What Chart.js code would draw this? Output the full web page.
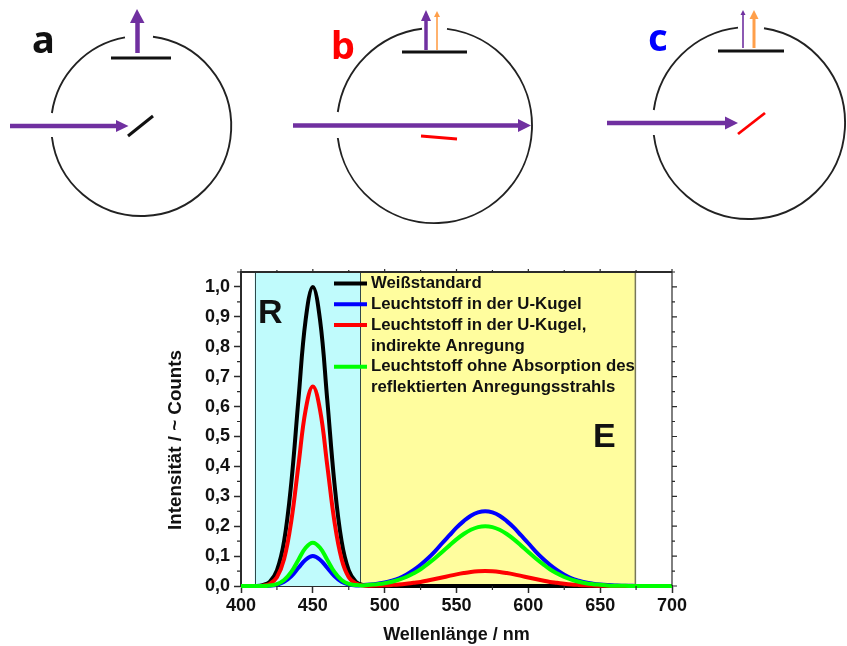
<!DOCTYPE html>
<html>
<head>
<meta charset="utf-8">
<title>Wellenlänge</title>
<script src="https://cdn.jsdelivr.net/npm/chart.js@4/dist/chart.umd.min.js"></script>
<style>
  html, body { margin: 0; padding: 0; background: #fff; }
  #wrap { position: relative; width: 847px; height: 646px; overflow: hidden; }
  #spectra { position: absolute; left: 0; top: 0; }
  #sketch { position: absolute; left: 0; top: 0; }
  #sketch text { font-family: "Noto Sans", sans-serif; font-weight: 700; font-size: 38px; }
</style>
</head>
<body>
<div id="wrap">
  <canvas id="spectra" width="847" height="646"></canvas>
  <svg id="sketch" width="847" height="240" viewBox="0 0 847 240" fill="none">
    <!-- a -->
    <text x="32" y="53" fill="#111">a</text>
    <path d="M153 36.8A90 90 0 1 1 51.9 137M51.9 113A90 90 0 0 1 125 37.4" stroke="#222" stroke-width="1.9"/>
    <path d="M111 58H171" stroke="#111" stroke-width="3"/>
    <path d="M137.5 53V22" stroke="#7030A0" stroke-width="4.5"/>
    <path d="M137 9L144.5 23H130Z" fill="#7030A0"/>
    <path d="M10 126H118" stroke="#7030A0" stroke-width="4.500"/>
    <path d="M128.500 126L116 120V132Z" fill="#7030A0"/>
    <path d="M128 136L153 116" stroke="#111" stroke-width="3"/>
    <!-- b -->
    <text x="331" y="59" fill="#f00">b</text>
    <path d="M447 28.900A97.500 97.500 0 1 1 337.800 138M337.800 112A97.500 97.500 0 0 1 422 28.700" stroke="#222" stroke-width="1.9"/>
    <path d="M402 52H467" stroke="#111" stroke-width="3"/>
    <path d="M426 50V20" stroke="#7030A0" stroke-width="3.500"/>
    <path d="M426 10L431 21H421Z" fill="#7030A0"/>
    <path d="M437 50V16" stroke="#FF9F4A" stroke-width="1.600"/>
    <path d="M437 11L440 17H434Z" fill="#FF9F4A"/>
    <path d="M293 125.500H519" stroke="#7030A0" stroke-width="4.500"/>
    <path d="M531 125.500L518 119V132Z" fill="#7030A0"/>
    <path d="M421 136L457 139" stroke="#f00" stroke-width="2.800"/>
    <!-- c -->
    <text x="648" y="51" fill="#00f">c</text>
    <path d="M764 28.200A96 96 0 1 1 653.800 135M653.800 110A96 96 0 0 1 738 27.600" stroke="#222" stroke-width="1.9"/>
    <path d="M718 51H784" stroke="#111" stroke-width="3"/>
    <path d="M743 48V14" stroke="#7030A0" stroke-width="1.600"/>
    <path d="M743 10L745.500 15H740.500Z" fill="#7030A0"/>
    <path d="M754 48V18" stroke="#FF9F4A" stroke-width="3"/>
    <path d="M754 10L758.500 19H749.500Z" fill="#FF9F4A"/>
    <path d="M607 123H726" stroke="#7030A0" stroke-width="4.500"/>
    <path d="M738 123L725 116.500V129.500Z" fill="#7030A0"/>
    <path d="M738 134L765 113" stroke="#f00" stroke-width="2.800"/>
  </svg>
</div>
<script>
// DATA
const wavelengths = [
  400, 405, 410, 415, 420, 425, 430, 435, 440, 445,
  450, 455, 460, 465, 470, 475, 480, 485, 490, 495,
  500, 505, 510, 515, 520, 525, 530, 535, 540, 545,
  550, 555, 560, 565, 570, 575, 580, 585, 590, 595,
  600, 605, 610, 615, 620, 625, 630, 635, 640, 645,
  650, 655, 660, 665, 670, 675, 680, 685, 690, 695,
  700
];
const weissstandard = [
  0, 0, 0, .003, .014, .052, .15, .345, .625, .89,
  1, .89, .625, .345, .15, .052, .014, .003, 0, 0,
  0, 0, 0, 0, 0, 0, 0, 0, 0, 0,
  0, 0, 0, 0, 0, 0, 0, 0, 0, 0,
  0, 0, 0, 0, 0, 0, 0, 0, 0, 0,
  0, 0, 0, 0, 0, 0, 0, 0, 0, 0,
  0
];
const leuchtstoffKugel = [
  0, 0, 0, 0, .001, .004, .014, .032, .061, .088,
  .1, .088, .061, .033, .014, .005, .002, .003, .005, .008,
  .012, .018, .026, .038, .053, .071, .092, .116, .143, .169,
  .195, .217, .235, .246, .25, .246, .235, .217, .195, .169,
  .143, .116, .092, .071, .053, .038, .026, .018, .012, .008,
  .005, .003, .002, .001, .001, 0, 0, 0, 0, 0,
  0
];
const leuchtstoffIndirekt = [
  0, 0, 0, .001, .007, .029, .09, .217, .405, .589,
  .667, .589, .405, .217, .09, .029, .008, .002, .001, .0015,
  .0024, .0036, .0052, .0076, .0106, .0135, .0184, .0233, .0285, .0338,
  .039, .0434, .047, .0492, .05, .0492, .047, .0434, .039, .0338,
  .0285, .0233, .0184, .0135, .0106, .0076, .0052, .0036, .0024, .0015,
  .001, .0005, 0, 0, 0, 0, 0, 0, 0, 0,
  0
];
const leuchtstoffOhneAbsorption = [
  0, 0, 0, 0, .002, .006, .02, .047, .088, .128,
  .145, .128, .088, .047, .02, .007, .003, .002, .004, .006,
  .009, .014, .021, .03, .042, .056, .074, .093, .114, .135,
  .156, .174, .188, .197, .2, .197, .188, .174, .156, .135,
  .114, .093, .074, .056, .042, .03, .021, .014, .009, .006,
  .004, .002, .001, .001, 0, 0, 0, 0, 0, 0,
  0
];
const bandR = [409.5, 483];
const bandE = [483, 674.5];
const legendRows = [
  { lines: ["Weißstandard"], color: "#000000" },
  { lines: ["Leuchtstoff in der U-Kugel"], color: "#0000ff" },
  { lines: ["Leuchtstoff in der U-Kugel,", "indirekte Anregung"], color: "#ff0000" },
  { lines: ["Leuchtstoff ohne Absorption des", "reflektierten Anregungsstrahls"], color: "#00ff00" }
];

const FONT = '"Liberation Sans", Arial, sans-serif';
const AXIS = "#2b2b2b";
const BOLD18 = { family: FONT, size: 18, weight: "bold" };

function series(values) {
  return wavelengths.map((x, i) => ({ x: x, y: values[i] }));
}

function lineSet(label, values, color, order) {
  return {
    label: label,
    data: series(values),
    borderColor: color,
    borderWidth: 4,
    pointRadius: 0,
    tension: 0.4,
    clip: false,
    order: order
  };
}

// coloured bands behind the curves
const bandsPlugin = {
  id: "bands",
  beforeDatasetsDraw(chart) {
    const { ctx, chartArea, scales } = chart;
    const fillBand = (band, fill) => {
      const x0 = scales.x.getPixelForValue(band[0]);
      const x1 = scales.x.getPixelForValue(band[1]);
      ctx.fillStyle = fill;
      ctx.fillRect(x0, chartArea.top, x1 - x0, chartArea.bottom - chartArea.top);
    };
    fillBand(bandR, "#c0fbfc");
    fillBand(bandE, "#fffd9e");

    ctx.save();
    ctx.lineWidth = 1;
    ctx.strokeStyle = "#30484a";
    [bandR[0], bandR[1]].forEach(v => {
      const x = Math.round(scales.x.getPixelForValue(v)) + 0.5;
      ctx.beginPath();
      ctx.moveTo(x, chartArea.top);
      ctx.lineTo(x, chartArea.bottom);
      ctx.stroke();
    });
    ctx.lineWidth = 1.5;
    ctx.strokeStyle = "#77775a";
    const xe = scales.x.getPixelForValue(bandE[1]);
    ctx.beginPath();
    ctx.moveTo(xe, chartArea.top);
    ctx.lineTo(xe, chartArea.bottom);
    ctx.stroke();
    ctx.restore();
  }
};

// minor ticks plus mirrored axes on top and right, legend and labels
const framePlugin = {
  id: "frame",
  afterDatasetsDraw(chart) {
    const { ctx, chartArea, scales } = chart;
    const { left, right, top, bottom } = chartArea;
    ctx.save();
    ctx.strokeStyle = AXIS;
    ctx.lineWidth = 2;
    ctx.beginPath();
    ctx.moveTo(left, top);
    ctx.lineTo(right, top);
    ctx.stroke();
    ctx.lineWidth = 1.2;
    ctx.beginPath();
    ctx.moveTo(right, top);
    ctx.lineTo(right, bottom);
    ctx.stroke();

    ctx.beginPath();
    scales.y.ticks.forEach(t => {
      const y = scales.y.getPixelForValue(t.value);
      ctx.moveTo(right, y);
      ctx.lineTo(right + 5, y);
      const ym = scales.y.getPixelForValue(t.value + 0.05);
      ctx.moveTo(left, ym);
      ctx.lineTo(left - 4, ym);
      ctx.moveTo(right, ym);
      ctx.lineTo(right + 3, ym);
    });
    scales.x.ticks.forEach(t => {
      const x = scales.x.getPixelForValue(t.value);
      ctx.moveTo(x, top);
      ctx.lineTo(x, top - 3);
      if (t.value < 700) {
        const xm = scales.x.getPixelForValue(t.value + 25);
        ctx.moveTo(xm, bottom);
        ctx.lineTo(xm, bottom + 4);
        ctx.moveTo(xm, top);
        ctx.lineTo(xm, top - 2);
      }
    });
    ctx.stroke();

    // legend
    ctx.textBaseline = "middle";
    ctx.textAlign = "left";
    ctx.font = "bold 16.8px " + FONT;
    let y = 283.5;
    legendRows.forEach(row => {
      ctx.strokeStyle = row.color;
      ctx.lineWidth = 4;
      ctx.beginPath();
      ctx.moveTo(334, y);
      ctx.lineTo(367, y);
      ctx.stroke();
      row.lines.forEach(txt => {
        ctx.fillStyle = "#111";
        ctx.fillText(txt, 371, y);
        y += 20.8;
      });
    });

    // band letters
    ctx.font = "bold 34px " + FONT;
    ctx.textBaseline = "alphabetic";
    ctx.fillText("R", 258, 323);
    ctx.fillText("E", 593, 447);

    // y axis title
    ctx.save();
    ctx.translate(181, 440);
    ctx.rotate(-Math.PI / 2);
    ctx.textAlign = "center";
    ctx.font = "bold 18.8px " + FONT;
    ctx.fillText("Intensität / ~ Counts", 0, 0);
    ctx.restore();
    ctx.restore();
  }
};

new Chart(document.getElementById("spectra"), {
  type: "line",
  data: {
    datasets: [
      lineSet("Weißstandard", weissstandard, "#000000", 4),
      lineSet("Leuchtstoff in der U-Kugel", leuchtstoffKugel, "#0000ff", 3),
      lineSet("Leuchtstoff in der U-Kugel, indirekte Anregung", leuchtstoffIndirekt, "#ff0000", 2),
      lineSet("Leuchtstoff ohne Absorption des reflektierten Anregungsstrahls", leuchtstoffOhneAbsorption, "#00ff00", 1)
    ]
  },
  options: {
    responsive: false,
    animation: false,
    layout: { padding: { top: 272, right: 175, left: 0, bottom: 0 } },
    plugins: { legend: { display: false }, tooltip: { enabled: false } },
    scales: {
      x: {
        type: "linear",
        min: 400,
        max: 700,
        afterFit(scale) { scale.height = 60; },
        grid: { drawOnChartArea: false, tickLength: 7, tickColor: AXIS, tickWidth: 1.5 },
        border: { color: AXIS, width: 2 },
        ticks: {
          stepSize: 50,
          color: "#111",
          padding: 2,
          maxRotation: 0,
          font: BOLD18
        },
        title: {
          display: true,
          text: "Wellenlänge / nm",
          color: "#111",
          padding: { top: 11, bottom: 0 },
          font: BOLD18
        }
      },
      y: {
        min: 0,
        max: 1.05,
        afterFit(scale) { scale.width = 241; },
        grid: { drawOnChartArea: false, tickLength: 7, tickColor: AXIS, tickWidth: 1.5 },
        border: { color: AXIS, width: 2 },
        ticks: {
          stepSize: 0.1,
          includeBounds: false,
          color: "#111",
          padding: 4,
          font: BOLD18,
          callback: v => v.toFixed(1).replace(".", ",")
        }
      }
    }
  },
  plugins: [bandsPlugin, framePlugin]
});
</script>
</body>
</html>
